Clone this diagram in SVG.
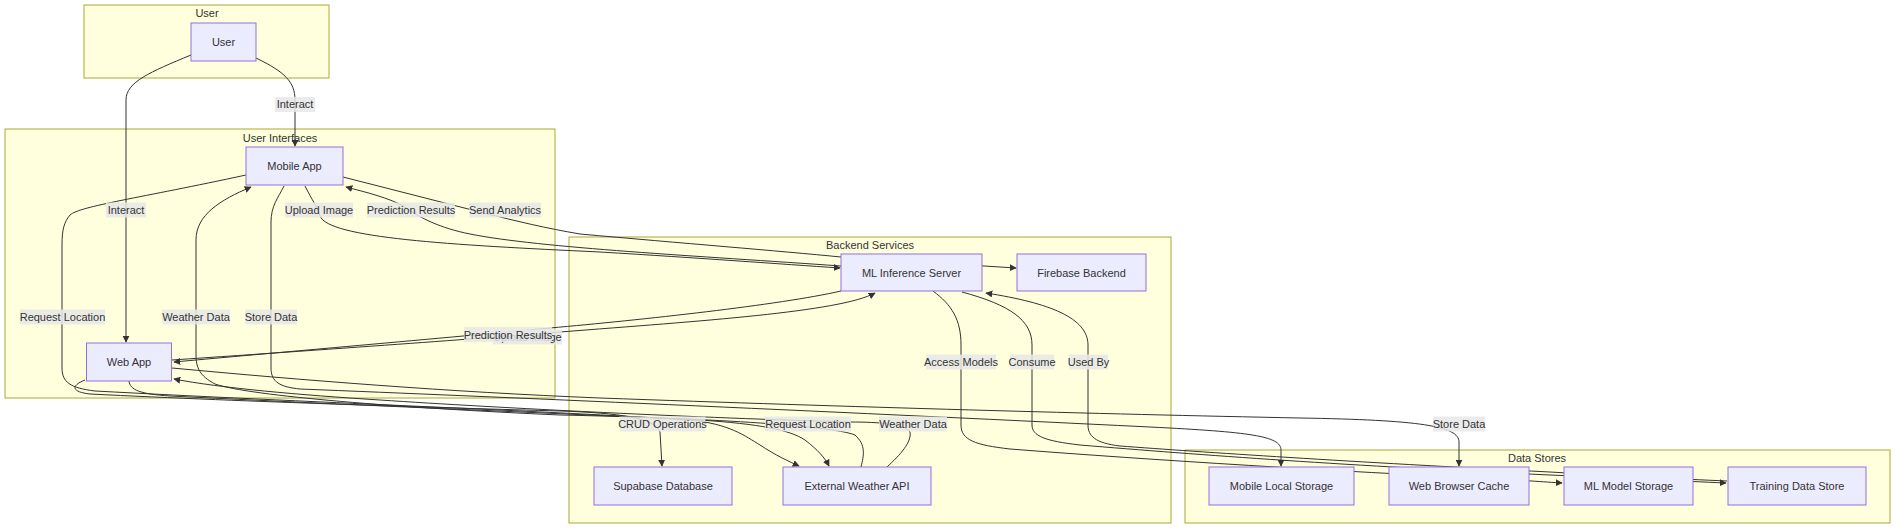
<svg xmlns="http://www.w3.org/2000/svg" width="1904" height="531" viewBox="0 0 1904 531">
<defs>
<style>
.cl{fill:#ffffde;stroke:#aaaa33;stroke-width:1}
.nd{fill:#ececff;stroke:#9370db;stroke-width:1}
.t{font-family:"Liberation Sans",Arial,sans-serif;font-size:11px;fill:#333;text-anchor:middle}
.e{fill:none;stroke:#333;stroke-width:1}
.a{marker-end:url(#arr)}
.lb{fill:#e8e8e8;opacity:0.85}
</style>
<marker id="arr" viewBox="0 0 10 10" refX="9" refY="5" markerWidth="7" markerHeight="7" markerUnits="userSpaceOnUse" orient="auto"><path d="M0,0 L10,5 L0,10 z" fill="#333"/></marker>
</defs>
<rect width="1904" height="531" fill="#fff"/>
<g id="clusters">
<g id="cluster-user"><rect class="cl" x="84" y="5" width="245" height="73"/><text class="t" x="207" y="17">User</text></g>
<g id="cluster-ui"><rect class="cl" x="5" y="129" width="550" height="269"/><text class="t" x="280" y="142">User Interfaces</text></g>
<g id="cluster-backend"><rect class="cl" x="569" y="237" width="602" height="286"/><text class="t" x="870" y="249">Backend Services</text></g>
<g id="cluster-data"><rect class="cl" x="1185" y="450" width="705" height="73"/><text class="t" x="1537" y="462">Data Stores</text></g>
</g>
<g id="connectors">
<path class="e a" d="M256,58 C285,72 295,82 295,100 L295,146"/>
<path class="e a" d="M191,55 C150,72 126,82 126,100 L126,342"/>
<path class="e a" d="M305,186 C312,200 318,208 320,216 C328,238 450,245 600,252 C700,258 780,264 840,268"/>
<path class="e a" d="M841,266 C700,256 540,248 470,234 C440,228 420,218 405,207 C390,198 365,192 346,187"/>
<path class="e a" d="M343,177 L480,212 C520,222 545,228 580,234 C680,243 780,251 841,257 L1016,268"/>
<path class="e a" d="M172,360 C350,348 500,337 560,332 C700,321 840,312 875,293"/>
<path class="e a" d="M841,291 C780,305 640,320 550,328 C400,342 250,355 174,362"/>
<path class="e a" d="M284,186 C278,198 271,206 271,222 L271,368 C271,382 280,387 300,389 C500,397 800,410 1150,427 C1250,432 1281,436 1281,450 L1281,466"/>
<path class="e a" d="M172,368 C300,380 450,392 600,398 C850,407 1100,414 1300,418 C1420,420 1459,426 1459,442 L1459,466"/>
<path class="e a" d="M85,380 C70,386 72,392 90,394 C250,402 450,408 560,411 C620,413 655,418 660,432 L662,466"/>
<path class="e a" d="M129,381 C130,390 140,394 170,396 C350,405 550,413 700,420 C760,424 790,430 805,440 C818,450 825,458 829,466"/>
<path class="e a" d="M246,175 C140,198 80,206 70,215 C64,222 62,230 62,245 L62,368 C62,382 70,388 95,391 C300,402 550,411 690,420 C730,424 745,436 760,445 C775,455 790,462 799,466"/>
<path class="e a" d="M861,467 C864,455 866,445 855,435 C830,425 700,418 560,415 C400,408 250,396 215,384 C200,376 196,368 196,355 L196,240 C196,215 220,200 251,187"/>
<path class="e a" d="M887,467 C900,455 912,442 910,432 C905,424 880,422 850,422 C700,418 500,408 380,400 C300,395 220,388 174,379"/>
<path class="e a" d="M933,291 C952,305 961,320 961,345 L961,425 C961,440 975,445 1010,449 C1150,460 1350,472 1480,478 C1520,480 1545,482 1562,483"/>
<path class="e a" d="M962,292 C1010,305 1032,320 1032,345 L1032,425 C1032,436 1045,441 1080,445 C1200,455 1350,466 1550,475 C1620,478 1680,481 1726,483"/>
<path class="e a" d="M1727,481 C1680,479 1620,476 1550,472 C1350,462 1200,452 1120,446 C1095,443 1088,436 1088,425 L1088,345 C1088,318 1050,303 986,293"/>
</g>
<g id="edge-labels">
<g><rect class="lb" x="275" y="97" width="40" height="15"/><text class="t" x="295" y="108">Interact</text></g>
<g><rect class="lb" x="106" y="202.5" width="40" height="15"/><text class="t" x="126" y="214">Interact</text></g>
<g><rect class="lb" x="285" y="202.5" width="68" height="15"/><text class="t" x="319" y="214">Upload Image</text></g>
<g><rect class="lb" x="367" y="202.5" width="88" height="15"/><text class="t" x="411" y="214">Prediction Results</text></g>
<g><rect class="lb" x="469" y="202.5" width="72" height="15"/><text class="t" x="505" y="214">Send Analytics</text></g>
<g><rect class="lb" x="20" y="309.5" width="85" height="15"/><text class="t" x="62.5" y="321">Request Location</text></g>
<g><rect class="lb" x="162" y="309.5" width="68" height="15"/><text class="t" x="196" y="321">Weather Data</text></g>
<g><rect class="lb" x="245" y="309.5" width="52" height="15"/><text class="t" x="271" y="321">Store Data</text></g>
<g><rect class="lb" x="493" y="329.5" width="69" height="15"/><text class="t" x="527.5" y="341">Upload Image</text></g>
<g><rect class="lb" x="464" y="327" width="88" height="15"/><text class="t" x="508" y="338.5">Prediction Results</text></g>
<g><rect class="lb" x="926" y="354.5" width="70" height="15"/><text class="t" x="961" y="366">Access Models</text></g>
<g><rect class="lb" x="1010" y="354.5" width="44" height="15"/><text class="t" x="1032" y="366">Consume</text></g>
<g><rect class="lb" x="1069" y="354.5" width="39" height="15"/><text class="t" x="1088.5" y="366">Used By</text></g>
<g><rect class="lb" x="619.5" y="416.5" width="86" height="15"/><text class="t" x="662.5" y="428">CRUD Operations</text></g>
<g><rect class="lb" x="765" y="416.5" width="86" height="15"/><text class="t" x="808" y="428">Request Location</text></g>
<g><rect class="lb" x="879" y="416.5" width="68" height="15"/><text class="t" x="913" y="428">Weather Data</text></g>
<g><rect class="lb" x="1433" y="416.5" width="52" height="15"/><text class="t" x="1459" y="428">Store Data</text></g>
</g>
<g id="node-user"><rect class="nd" x="191" y="23" width="65" height="38"/><text class="t" x="223.5" y="46">User</text></g>
<g id="node-mobile"><rect class="nd" x="246" y="147" width="97" height="38"/><text class="t" x="294.5" y="170">Mobile App</text></g>
<g id="node-web"><rect class="nd" x="86.5" y="343" width="85" height="38"/><text class="t" x="129" y="366">Web App</text></g>
<g id="node-ml"><rect class="nd" x="841" y="254" width="141" height="37"/><text class="t" x="911.5" y="276.5">ML Inference Server</text></g>
<g id="node-firebase"><rect class="nd" x="1017" y="254" width="129" height="37"/><text class="t" x="1081.5" y="276.5">Firebase Backend</text></g>
<g id="node-supabase"><rect class="nd" x="594" y="467" width="138" height="38"/><text class="t" x="663" y="490">Supabase Database</text></g>
<g id="node-weather"><rect class="nd" x="783" y="467" width="148" height="38"/><text class="t" x="857" y="490">External Weather API</text></g>
<g id="node-mobilestore"><rect class="nd" x="1209" y="467" width="145" height="38"/><text class="t" x="1281.5" y="490">Mobile Local Storage</text></g>
<g id="node-webcache"><rect class="nd" x="1389" y="467" width="140" height="38"/><text class="t" x="1459" y="490">Web Browser Cache</text></g>
<g id="node-modelstore"><rect class="nd" x="1564" y="467" width="129" height="38"/><text class="t" x="1628.5" y="490">ML Model Storage</text></g>
<g id="node-training"><rect class="nd" x="1728" y="467" width="138" height="38"/><text class="t" x="1797" y="490">Training Data Store</text></g>
</svg>
